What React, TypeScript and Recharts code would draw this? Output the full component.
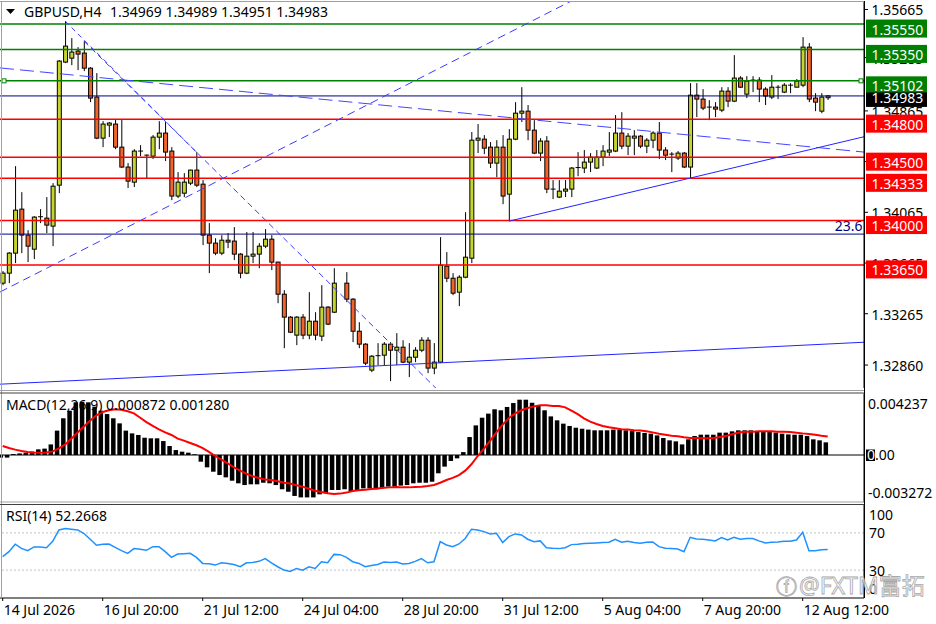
import React from 'react';
import { ComposedChart, Bar, Line, XAxis, YAxis, ReferenceLine } from 'recharts';

const FONT = '"Noto Sans", "DejaVu Sans", sans-serif';

const symbolName = 'GBPUSD,H4';
const xTickIndex = [0, 16, 32, 48, 64, 80, 96, 112, 128];
const xTickLabels = ['14 Jul 2026', '16 Jul 20:00', '21 Jul 12:00', '24 Jul 04:00', '28 Jul 20:00', '31 Jul 12:00', '5 Aug 04:00', '7 Aug 20:00', '12 Aug 12:00'];

const opens: (number | null)[] = [
  1.33506, 1.33585, 1.33743, 1.3409, 1.33885, 1.33774, 1.34027, 1.34019, 1.33956, 1.34279,
  1.3525, 1.35281, 1.35337, 1.35321, 1.35202, 1.34974, 1.3465, 1.34753, 1.34761, 1.34579,
  1.34422, 1.34303, 1.34548, 1.34516, 1.34508, 1.34658, 1.3469, 1.34548, 1.34193, 1.34216,
  1.34295, 1.34398, 1.34287, 1.33885, 1.33822, 1.33743, 1.33845, 1.33838, 1.33735, 1.33585,
  1.33719, 1.33735, 1.33798, 1.33853, 1.33672, 1.33419, 1.33238, 1.33096, 1.33238, 1.33096,
  1.33206, 1.33088, 1.33317, 1.33277, null, 1.33506, 1.3338, 1.33127, 1.33025, 1.3282,
  1.3293, 1.32938, 1.33025, 1.32977, 1.33001, 1.32883, 1.32922, 1.32977, 1.33056, 1.32836,
  1.32883, 1.3364, 1.33545, 1.33435, 1.33553, 1.33703, 1.34634, 1.34642, 1.34579, 1.34453,
  1.34579, 1.34208, 1.34642, 1.34847, 1.34863, 1.34713, 1.34532, 1.34627, 1.34248, 1.34185,
  1.34232, 1.34248, 1.34414, 1.34414, 1.34461, 1.34414, 1.345, 1.3454, 1.34548, 1.3469,
  1.34587, 1.3465, 1.34666, 1.34587, 1.34634, 1.3469, 1.34556, 1.34524, 1.34493, 1.34532,
  1.34422, 1.34989, 1.34958, 1.34895, 1.34895, 1.34871, 1.35021, 1.34942, 1.35124, 1.34997,
  1.35108, 1.35108, 1.35037, 1.34974, 1.35052, 1.35013, 1.35068, 1.35052, 1.35068, 1.35368,
  1.34966, 1.34863, 1.34969,
];
const highs: (number | null)[] = [
  1.33601, 1.33751, 1.34429, 1.34224, 1.33924, 1.34035, 1.3409, 1.34185, 1.34295, 1.35266,
  1.35573, 1.35439, 1.35368, 1.35415, 1.3521, 1.35163, 1.34784, 1.34777, 1.348, 1.348,
  1.34453, 1.34563, 1.34595, 1.3452, 1.34674, 1.34784, 1.34777, 1.34579, 1.34382, 1.34374,
  1.34401, 1.3454, 1.34319, 1.3398, 1.33861, 1.33885, 1.33901, 1.33948, 1.33743, 1.33909,
  1.33909, 1.33822, 1.33932, 1.33885, 1.33675, 1.33451, 1.33246, 1.33246, 1.33262, 1.33435,
  1.33277, 1.3349, 1.33325, 1.33624, null, 1.33593, 1.33388, 1.33198, 1.33033, 1.32938,
  1.33033, 1.33041, 1.33041, 1.33112, 1.33056, 1.33033, 1.33001, 1.3308, 1.3308, 1.33033,
  1.33869, 1.33751, 1.33585, 1.33569, 1.34066, 1.34698, 1.34761, 1.34674, 1.34619, 1.34634,
  1.34674, 1.34721, 1.34934, 1.35052, 1.34911, 1.34792, 1.3465, 1.34666, 1.34319, 1.34319,
  1.34319, 1.34422, 1.3454, 1.34556, 1.34532, 1.34556, 1.34595, 1.34698, 1.34832, 1.34855,
  1.3469, 1.34713, 1.34674, 1.3465, 1.34705, 1.34777, 1.34579, 1.3454, 1.34548, 1.3454,
  1.35084, 1.35084, 1.35037, 1.3495, 1.34934, 1.35052, 1.35052, 1.35305, 1.35139, 1.35139,
  1.35139, 1.35131, 1.35052, 1.35147, 1.35068, 1.35084, 1.35084, 1.35116, 1.35447, 1.354,
  1.35005, 1.35005, 1.34989,
];
const lows: (number | null)[] = [
  1.3349, 1.33506, 1.33664, 1.33743, 1.33672, 1.33696, 1.3398, 1.33901, 1.33798, 1.34216,
  1.35242, 1.35226, 1.35187, 1.35179, 1.34934, 1.34642, 1.34579, 1.34658, 1.34563, 1.34414,
  1.34256, 1.34264, 1.34508, 1.34335, 1.34485, 1.34563, 1.34469, 1.34161, 1.34177, 1.34185,
  1.34279, 1.34264, 1.33806, 1.33585, 1.33727, 1.33727, 1.33782, 1.33688, 1.33545, 1.33577,
  1.33664, 1.33624, 1.33782, 1.33609, 1.33348, 1.32993, 1.33112, 1.33017, 1.33064, 1.33064,
  1.33056, 1.33049, 1.33175, 1.3327, null, 1.33356, 1.33041, 1.32993, 1.32859, 1.32804,
  1.32859, 1.32859, 1.32733, 1.32859, 1.32875, 1.32765, 1.32883, 1.32962, 1.32796, 1.32788,
  1.32875, 1.33514, 1.33411, 1.33325, 1.33545, 1.33664, 1.34532, 1.34524, 1.34414, 1.34342,
  1.34129, 1.33995, 1.34634, 1.34777, 1.34634, 1.34524, 1.34469, 1.34216, 1.34169, 1.34177,
  1.34185, 1.34185, 1.3435, 1.34374, 1.34382, 1.34406, 1.34429, 1.34508, 1.3454, 1.34563,
  1.34516, 1.34516, 1.34571, 1.34532, 1.34571, 1.34485, 1.34477, 1.34382, 1.34477, 1.34414,
  1.34335, 1.34816, 1.34871, 1.34792, 1.34816, 1.34855, 1.34895, 1.34934, 1.35045, 1.34966,
  1.35013, 1.34934, 1.34911, 1.34958, 1.34958, 1.35005, 1.35005, 1.35052, 1.35052, 1.34934,
  1.34863, 1.34847, 1.34951,
];
const closes: (number | null)[] = [
  1.33585, 1.33743, 1.34082, 1.33885, 1.33798, 1.34027, 1.3403, 1.33964, 1.34271, 1.35258,
  1.35376, 1.35329, 1.35313, 1.35202, 1.34966, 1.3465, 1.34761, 1.34769, 1.34579, 1.34422,
  1.34311, 1.34548, 1.34545, 1.34516, 1.34658, 1.3469, 1.3454, 1.34193, 1.34303, 1.34303,
  1.34398, 1.34279, 1.33885, 1.33822, 1.33743, 1.33845, 1.3383, 1.33735, 1.33585, 1.33719,
  1.33735, 1.33798, 1.33853, 1.33672, 1.33419, 1.33238, 1.33119, 1.33238, 1.33096, 1.33206,
  1.33096, 1.33317, 1.33183, 1.33506, null, 1.3338, 1.33127, 1.33025, 1.32875, 1.3293,
  1.32934, 1.33025, 1.32977, 1.33001, 1.32883, 1.32922, 1.32977, 1.33056, 1.32836, 1.32883,
  1.33648, 1.33545, 1.33427, 1.33553, 1.33711, 1.34634, 1.3465, 1.34571, 1.34453, 1.34579,
  1.34193, 1.34642, 1.34847, 1.34863, 1.34713, 1.34532, 1.34627, 1.34248, 1.34244, 1.34232,
  1.34248, 1.34414, 1.34418, 1.34461, 1.345, 1.345, 1.34548, 1.34556, 1.3469, 1.34587,
  1.34666, 1.34666, 1.34587, 1.34634, 1.3469, 1.34556, 1.34516, 1.3452, 1.34532, 1.34422,
  1.34989, 1.34958, 1.34887, 1.34891, 1.34879, 1.35021, 1.34942, 1.35124, 1.35052, 1.351,
  1.35104, 1.35037, 1.34982, 1.35052, 1.35048, 1.35068, 1.35064, 1.351, 1.35368, 1.34958,
  1.34934, 1.34974, 1.34983,
];

const macdHist = [
  -0.00018, -0.00018, 0.00007, 0.00011, 0.00016, 0.00023, 0.00039, 0.00044, 0.00073, 0.00168,
  0.00253, 0.00305, 0.00363, 0.00367, 0.00363, 0.00333, 0.00305, 0.00282, 0.00253, 0.00218,
  0.00168, 0.00149, 0.00138, 0.00119, 0.00115, 0.00115, 0.00096, 0.00062, 0.00034, 0.00023,
  0.00016, 0.00005, -0.00046, -0.00085, -0.00115, -0.00138, -0.00154, -0.00177, -0.00195, -0.00207,
  -0.00202, -0.00202, -0.00191, -0.00195, -0.00207, -0.00236, -0.00253, -0.00282, -0.00292, -0.00292,
  -0.00292, -0.00271, -0.00264, -0.00241, -0.00241, -0.00236, -0.00248, -0.00241, -0.0023, -0.0023,
  -0.00236, -0.0023, -0.00218, -0.00218, -0.00211, -0.00207, -0.00195, -0.00191, -0.00191, -0.00184,
  -0.00126, -0.0008, -0.00041, -0.00023, 0.0002, 0.00124, 0.00204, 0.00257, 0.00285, 0.00315,
  0.00308, 0.00331, 0.00358, 0.00381, 0.00381, 0.0036, 0.00342, 0.00308, 0.00266, 0.00239,
  0.00216, 0.002, 0.00188, 0.00181, 0.00175, 0.0017, 0.0017, 0.0017, 0.00175, 0.00175,
  0.0017, 0.00165, 0.00158, 0.00152, 0.00147, 0.00135, 0.00117, 0.00101, 0.00094, 0.00073,
  0.00108, 0.00131, 0.0014, 0.0014, 0.0014, 0.00154, 0.00154, 0.00163, 0.0017, 0.0017,
  0.0017, 0.00163, 0.00158, 0.00158, 0.00154, 0.00147, 0.00142, 0.0014, 0.0014, 0.00131,
  0.00108, 0.00101, 0.000872,
];
const macdSignal = [
  0.00062, 0.00048, 0.00037, 0.00028, 0.00021, 0.00017, 0.00016, 0.00018, 0.00025, 0.00046,
  0.00073, 0.00113, 0.00156, 0.00197, 0.00237, 0.00273, 0.00296, 0.00308, 0.00315, 0.00312,
  0.00301, 0.00287, 0.00257, 0.00227, 0.002, 0.00177, 0.00156, 0.00138, 0.00113, 0.00099,
  0.00083, 0.00067, 0.00048, 0.00021, -0.00007, -0.00032, -0.00057, -0.00085, -0.00108, -0.00129,
  -0.00147, -0.00158, -0.00168, -0.00172, -0.00181, -0.00191, -0.00197, -0.00209, -0.00218, -0.00232,
  -0.00246, -0.00255, -0.00264, -0.00269, -0.00266, -0.00259, -0.00248, -0.00243, -0.00239, -0.00234,
  -0.0023, -0.00225, -0.00223, -0.0022, -0.00223, -0.00223, -0.0022, -0.00218, -0.00214, -0.00207,
  -0.00191, -0.00172, -0.00158, -0.00138, -0.00108, -0.00064, -0.00007, 0.00044, 0.00099, 0.00156,
  0.00209, 0.00255, 0.00287, 0.00308, 0.00324, 0.00335, 0.00342, 0.00342, 0.00338, 0.00338,
  0.00328, 0.00305, 0.00282, 0.00253, 0.0023, 0.00214, 0.002, 0.00191, 0.00184, 0.00177,
  0.00175, 0.0017, 0.00168, 0.00163, 0.00156, 0.00147, 0.0014, 0.00133, 0.00129, 0.00122,
  0.00117, 0.00117, 0.00115, 0.00115, 0.00119, 0.00126, 0.00135, 0.00147, 0.00156, 0.00161,
  0.00161, 0.00163, 0.00163, 0.00163, 0.00161, 0.00161, 0.00158, 0.00154, 0.00149, 0.00145,
  0.0014, 0.00133, 0.00128,
];
const rsi14 = [
  44.4, 49.8, 57.8, 53.4, 50.9, 54.9, 54.9, 54.1, 61.0, 73.2,
  74.7, 74.0, 73.2, 69.3, 63.2, 56.7, 57.8, 58.1, 54.5, 50.9,
  48.0, 53.1, 52.3, 51.3, 55.2, 55.2, 49.8, 43.7, 47.3, 47.7,
  48.0, 43.7, 37.2, 36.8, 35.4, 37.9, 37.2, 36.1, 33.6, 37.9,
  38.3, 39.4, 42.3, 37.9, 33.6, 30.0, 28.6, 31.8, 30.0, 33.6,
  31.8, 39.0, 37.9, 46.9, 46.6, 43.7, 39.0, 37.2, 33.6, 35.0,
  36.1, 38.6, 38.3, 38.6, 36.5, 37.2, 39.4, 42.3, 37.9, 39.0,
  60.6, 57.0, 55.2, 58.1, 64.0, 74.0, 73.2, 71.4, 68.9, 69.6,
  59.6, 66.0, 68.9, 67.8, 63.2, 60.6, 61.4, 54.1, 53.4, 53.1,
  54.1, 57.4, 57.8, 58.5, 58.8, 59.2, 59.6, 59.9, 63.2, 59.9,
  61.0, 59.6, 58.8, 59.9, 60.3, 55.2, 53.4, 53.1, 52.7, 49.8,
  65.3, 63.5, 63.2, 62.4, 61.4, 65.0, 62.4, 65.3, 63.2, 63.9,
  63.9, 61.4, 59.2, 59.9, 60.3, 61.0, 61.0, 62.4, 70.7, 50.9,
  50.9, 52.0, 52.2668,
];

const priceTicks = [1.35665, 1.35285, 1.34865, 1.34465, 1.34065, 1.33665, 1.33265, 1.3286];
const greenLevels = [1.3555, 1.3535, 1.35102];
const redLevels = [1.348, 1.345, 1.34333, 1.34, 1.3365];
const selectedLevel = 1.35102;
const bidPrice = 1.34983;
const fibPrice = 1.33893;
const fibText = '23.6';
const macdTicks = [0.004237, 0, -0.003272];
const rsiTicks = [100, 70, 30, 0];
const rsiLevels = [70, 30];

// trendline anchors: [candle index, price]
const fanLongA: [number, number][] = [[13, 1.35415], [31, 1.3454]];
const fanShortB: [number, number][] = [[10, 1.35573], [31, 1.3454]];
const risingDash: [number, number][] = [[0, 1.33447], [69, 1.3518]];
const fallingDash: [number, number][] = [[0, 1.35202], [132, 1.34568]];
const supportRay: [number, number][] = [[81, 1.33995], [110, 1.34335]];
const baseLine: [number, number][] = [[0, 1.3271], [132, 1.33026]];

// layout
const CHART_W = 936;
const AXIS_W = 72;
const PLOT_W = CHART_W - AXIS_W;
const BAR_PX = 6.25;
const FIRST_X = 2.7;
const XMIN = -FIRST_X / BAR_PX;
const XMAX = XMIN + PLOT_W / BAR_PX;
const PRICE_DOMAIN: [number, number] = [1.32679, 1.35724];
const UP = '#c5d42e';
const DOWN = '#f2652a';

const candleRows = opens
  .map((o, i) =>
    o == null
      ? null
      : { i, open: o, high: highs[i] as number, low: lows[i] as number, close: closes[i] as number, range: [lows[i], highs[i]] },
  )
  .filter((r) => r != null) as any[];
const macdRows = macdHist.map((h, i) => ({ i, hist: h, signal: macdSignal[i] }));
const rsiRows = rsi14.map((v, i) => ({ i, rsi: v }));

const extendLine = (pts: [number, number][], fromEdge: boolean, toEdge: boolean) => {
  const [a, b] = pts;
  const k = (b[1] - a[1]) / (b[0] - a[0]);
  const x0 = fromEdge ? XMIN : a[0];
  const x1 = toEdge ? XMAX : b[0];
  return [
    { x: x0, y: a[1] + k * (x0 - a[0]) },
    { x: x1, y: a[1] + k * (x1 - a[0]) },
  ];
};

const trendlines = [
  { seg: extendLine(fanLongA, false, true), stroke: '#3b3bff', dash: '6 4' },
  { seg: extendLine(fanShortB, false, false), stroke: '#3b3bff', dash: '5 4' },
  { seg: extendLine(risingDash, true, true), stroke: '#3b3bff', dash: '8 5' },
  { seg: extendLine(fallingDash, true, true), stroke: '#4444ff', dash: '14 6' },
  { seg: extendLine(supportRay, false, true), stroke: '#2424ff', dash: undefined },
  { seg: extendLine(baseLine, true, true), stroke: '#2424ff', dash: undefined },
];

const Candle = (props: any) => {
  const { x, y, width, height, payload } = props;
  if (!payload || x == null || y == null) return null;
  const top = height >= 0 ? y : y + height;
  const h = Math.abs(height);
  const { open, close, high, low } = payload;
  const span = high - low;
  const toPx = (v: number) => (span > 0 ? top + ((high - v) / span) * h : top);
  const cx = x + width / 2;
  const bTop = toPx(Math.max(open, close));
  const bBot = toPx(Math.min(open, close));
  const up = close >= open;
  const bodyH = bBot - bTop;
  return (
    <g>
      <line x1={cx} x2={cx} y1={top} y2={top + h} stroke="#000" strokeWidth={1} />
      {bodyH < 1.2 ? (
        <line x1={x} x2={x + width} y1={bTop} y2={bTop} stroke="#000" strokeWidth={1} />
      ) : (
        <rect x={x + 0.5} y={bTop} width={width - 1} height={bodyH} fill={up ? UP : DOWN} stroke="#000" strokeWidth={1} />
      )}
    </g>
  );
};

const HistBar = (props: any) => {
  const { x, y, width, height } = props;
  if (x == null || y == null) return null;
  const top = height >= 0 ? y : y + height;
  return <rect x={x - 2} y={top} width={width - 0.5} height={Math.abs(height)} fill="#000" />;
};

const SelectedLine = (p: any) => {
  const xa = Math.min(p.x1, p.x2);
  const xb = Math.max(p.x1, p.x2);
  return (
    <g>
      <line x1={xa} y1={p.y1} x2={xb} y2={p.y2} stroke="#008000" strokeWidth={1.5} />
      <rect x={xa + 2} y={p.y1 - 2} width={4} height={4} fill="#fff" stroke="#008000" strokeWidth={1} />
      <rect x={xb - 5} y={p.y1 - 2} width={4} height={4} fill="#fff" stroke="#008000" strokeWidth={1} />
    </g>
  );
};

const FibLabel = (props: any) => {
  const vb = props.viewBox || {};
  return (
    <text x={vb.x + vb.width - 1.5} y={vb.y - 3.5} textAnchor="end" fill="#000080" fontSize={14} fontFamily={FONT}>
      {fibText}
    </text>
  );
};

const PriceTick = (props: any) => {
  const { x, y, payload } = props;
  const v = payload.value as number;
  const label = v.toFixed(5);
  const ax = x;
  if (v === bidPrice) {
    return (
      <g>
        <rect x={ax + 2} y={y - 3.5} width={61} height={14.5} fill="#000" />
        <text x={ax + 7.5} y={y + 7.5} fill="#fff" fontSize={14} fontFamily={FONT}>{label}</text>
      </g>
    );
  }
  const isGreen = greenLevels.includes(v);
  const isRed = redLevels.includes(v);
  if (isGreen || isRed) {
    return (
      <g>
        <rect x={ax + 2} y={y - 4.5} width={61} height={18} fill={isGreen ? '#008000' : '#ff0000'} />
        <text x={ax + 7.5} y={y + 10.5} fill="#fff" fontSize={14} fontFamily={FONT}>{label}</text>
      </g>
    );
  }
  return (
    <g>
      <line x1={ax} x2={ax + 4} y1={y} y2={y} stroke="#000" />
      <text x={ax + 7.5} y={y + 6} fill="#000" fontSize={14} fontFamily={FONT}>{label}</text>
    </g>
  );
};

const MacdTick = (props: any) => {
  const { x, y, payload } = props;
  const v = payload.value as number;
  if (v === 0) {
    return (
      <g>
        <rect x={x + 2} y={y - 5.5} width={9} height={11.5} fill="#000" />
        <text x={x + 3} y={y + 5} fontSize={14} fontFamily={FONT}>
          <tspan fill="#fff">0</tspan>
          <tspan fill="#000">.00</tspan>
        </text>
      </g>
    );
  }
  const dy = v > 0 ? 15.5 : -4.5;
  return (
    <text x={x + 4} y={y + dy} fill="#000" fontSize={14} fontFamily={FONT}>
      {v.toFixed(6)}
    </text>
  );
};

const RsiTick = (props: any) => {
  const { x, y, payload } = props;
  const v = payload.value as number;
  const dy = v === 100 ? 15 : v === 0 ? -4 : v === 70 ? 5 : 6;
  return (
    <text x={x + 5} y={y + dy} fill="#000" fontSize={14} fontFamily={FONT}>
      {String(v)}
    </text>
  );
};

const TimeTick = (props: any) => {
  const { x, y, payload } = props;
  const idx = xTickIndex.indexOf(payload.value);
  return (
    <g>
      <line x1={x} x2={x} y1={y} y2={y + 3} stroke="#000" />
      <text x={x + 1} y={y + 17} fill="#000" fontSize={14} fontFamily={FONT}>
        {xTickLabels[idx]}
      </text>
    </g>
  );
};

const mainTicks = [...priceTicks, ...redLevels, ...greenLevels, bidPrice];

export default function App() {
  const last = opens.length - 1;
  const ohlc = [opens[last], highs[last], lows[last], closes[last]].map((v) => (v as number).toFixed(5)).join(' ');
  const macdText = `MACD(12,26,9) ${macdHist[last].toFixed(6)} ${macdSignal[last].toFixed(6)}`;
  const rsiText = `RSI(14) ${rsi14[last].toFixed(4)}`;

  return (
    <div style={{ position: 'absolute', left: 0, top: 0, width: 936, height: 624, background: '#fff', overflow: 'hidden' }}>
      {/* main price panel */}
      <div style={{ position: 'absolute', left: 0, top: 0 }}>
        <ComposedChart width={CHART_W} height={390} data={candleRows} margin={{ top: 2, right: 0, bottom: 2, left: 0 }}>
          <XAxis dataKey="i" type="number" domain={[XMIN, XMAX]} allowDataOverflow hide />
          <YAxis
            orientation="right"
            width={AXIS_W}
            domain={PRICE_DOMAIN}
            allowDataOverflow
            ticks={mainTicks}
            interval={0}
            tick={(p: any) => <PriceTick {...p} />}
            tickLine={false}
            tickSize={0}
            tickMargin={0}
            axisLine={{ stroke: '#000' }}
          />
          <Bar dataKey="range" barSize={5} shape={(p: any) => <Candle {...p} />} isAnimationActive={false} />
          {redLevels.map((lv) => (
            <ReferenceLine key={'r' + lv} y={lv} stroke="#ff0000" strokeWidth={1.5} ifOverflow="hidden" />
          ))}
          {greenLevels
            .filter((lv) => lv !== selectedLevel)
            .map((lv) => (
              <ReferenceLine key={'g' + lv} y={lv} stroke="#008000" strokeWidth={1.5} ifOverflow="hidden" />
            ))}
          <ReferenceLine y={selectedLevel} ifOverflow="hidden" shape={(p: any) => <SelectedLine {...p} />} />
          <ReferenceLine y={bidPrice} stroke="#000080" strokeWidth={1} ifOverflow="hidden" />
          <ReferenceLine y={fibPrice} stroke="#000080" strokeWidth={1} ifOverflow="hidden" label={<FibLabel />} />
          {trendlines.map((t, k) => (
            <ReferenceLine
              key={'t' + k}
              segment={t.seg}
              stroke={t.stroke}
              strokeWidth={1}
              strokeDasharray={t.dash}
              ifOverflow="hidden"
            />
          ))}
        </ComposedChart>
      </div>

      {/* MACD panel */}
      <div style={{ position: 'absolute', left: 0, top: 390 }}>
        <ComposedChart width={CHART_W} height={114} data={macdRows} margin={{ top: 3.5, right: 0, bottom: 1.5, left: 0 }}>
          <XAxis dataKey="i" type="number" domain={[XMIN, XMAX]} allowDataOverflow hide />
          <YAxis
            orientation="right"
            width={AXIS_W}
            domain={[macdTicks[2], macdTicks[0]]}
            allowDataOverflow
            ticks={macdTicks}
            interval={0}
            tick={(p: any) => <MacdTick {...p} />}
            tickLine={false}
            tickSize={0}
            tickMargin={0}
            axisLine={{ stroke: '#000' }}
          />
          <ReferenceLine y={0} stroke="#000" strokeWidth={1} />
          <Bar dataKey="hist" barSize={5} fill="#000" shape={(p: any) => <HistBar {...p} />} isAnimationActive={false} />
          <Line dataKey="signal" type="linear" stroke="#ff0000" strokeWidth={2} dot={false} isAnimationActive={false} />
        </ComposedChart>
      </div>

      {/* RSI panel */}
      <div style={{ position: 'absolute', left: 0, top: 502 }}>
        <ComposedChart width={CHART_W} height={122} data={rsiRows} margin={{ top: 3, right: 0, bottom: 0, left: 0 }}>
          <XAxis
            dataKey="i"
            type="number"
            domain={[XMIN, XMAX]}
            allowDataOverflow
            ticks={xTickIndex}
            interval={0}
            height={26}
            tick={(p: any) => <TimeTick {...p} />}
            tickLine={false}
            tickSize={0}
            tickMargin={0}
            axisLine={{ stroke: '#000' }}
          />
          <YAxis
            orientation="right"
            width={AXIS_W}
            domain={[0, 100]}
            allowDataOverflow
            ticks={rsiTicks}
            interval={0}
            tick={(p: any) => <RsiTick {...p} />}
            tickLine={false}
            tickSize={0}
            tickMargin={0}
            axisLine={{ stroke: '#000' }}
          />
          {rsiLevels.map((lv) => (
            <ReferenceLine key={'l' + lv} y={lv} stroke="#c4c4c4" strokeDasharray="2 2" />
          ))}
          <Line dataKey="rsi" type="linear" stroke="#1e90ff" strokeWidth={1.5} dot={false} isAnimationActive={false} />
        </ComposedChart>
      </div>

      {/* frame & captions */}
      <svg width={936} height={624} style={{ position: 'absolute', left: 0, top: 0, pointerEvents: 'none' }}>
        <line x1={0} x2={864} y1={1.5} y2={1.5} stroke="#a0a0a0" />
        <line x1={1.5} x2={1.5} y1={1} y2={598} stroke="#a0a0a0" />
        <line x1={0} x2={864} y1={390.5} y2={390.5} stroke="#a0a0a0" />
        <line x1={0} x2={864} y1={393} y2={393} stroke="#404040" />
        <line x1={0} x2={864} y1={502} y2={502} stroke="#a0a0a0" />
        <line x1={0} x2={864} y1={504.5} y2={504.5} stroke="#404040" />
        <line x1={864.5} x2={864.5} y1={1} y2={598} stroke="#000" />
        <polygon points="6,9 15,9 10.5,14" fill="#000" />
        <text x={24} y={17} fontSize={14} fontFamily={FONT} fill="#000">{symbolName}</text>
        <text x={110} y={17} fontSize={14} fontFamily={FONT} fill="#000">{ohlc}</text>
        <text x={6} y={410} fontSize={14} fontFamily={FONT} fill="#000">{macdText}</text>
        <text x={6} y={520.5} fontSize={14} fontFamily={FONT} fill="#000">{rsiText}</text>
        <text x={776} y={594} fontSize={21} fontFamily='"DejaVu Sans", sans-serif' fill="#ffffff" fillOpacity={0.7} stroke="#a8a8a8" strokeWidth={0.8}>ⓕ</text>
        <text x={799} y={594} fontSize={23} fontFamily='"Noto Sans", "Noto Sans CJK SC", sans-serif' fill="#ffffff" fillOpacity={0.7} stroke="#a8a8a8" strokeWidth={0.8}>@FXTM富拓</text>
      </svg>
    </div>
  );
}
